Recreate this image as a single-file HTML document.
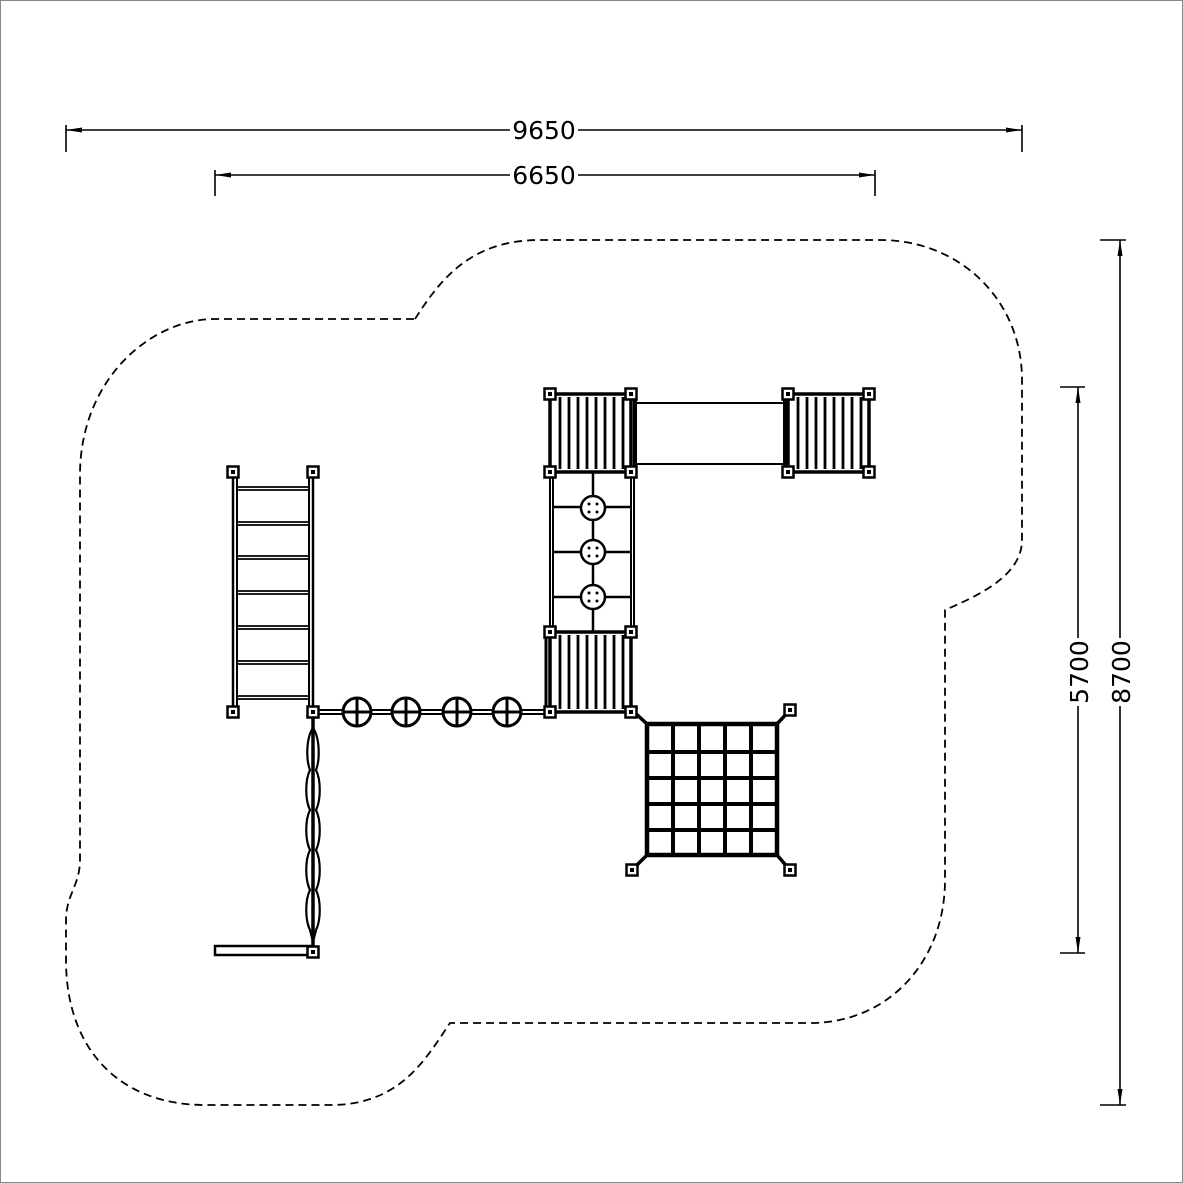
<!DOCTYPE html>
<html><head><meta charset="utf-8"><style>
html,body{margin:0;padding:0;background:#fff}
svg{display:block}
text{font-family:"DejaVu Sans","Liberation Sans",sans-serif;font-size:25px;fill:#000}
</style></head><body>
<svg width="1183" height="1183" viewBox="0 0 1183 1183" xmlns="http://www.w3.org/2000/svg">
<defs>
<marker id="ar" viewBox="0 0 16 6" refX="16" refY="3" markerWidth="16" markerHeight="6" orient="auto-start-reverse" markerUnits="userSpaceOnUse"><path d="M0,0.5 L16,3 L0,5.5 z" fill="#000"/></marker>
<g id="post"><rect x="-5.5" y="-5.5" width="11" height="11" fill="#fff" stroke="#000" stroke-width="2.5"/><rect x="-2" y="-2" width="4" height="4" fill="#000"/></g>
<g id="disc"><circle r="12" fill="#fff" stroke="#000" stroke-width="2.5"/><circle cx="-4" cy="-4" r="1.5"/><circle cx="4" cy="-4" r="1.5"/><circle cx="-4" cy="4" r="1.5"/><circle cx="4" cy="4" r="1.5"/></g>
</defs>
<rect x="0.5" y="0.5" width="1182" height="1182" fill="#fff" stroke="#888"/>
<g stroke="#000" stroke-width="1.6" fill="none">
<line x1="66" y1="130" x2="1022" y2="130" marker-start="url(#ar)" marker-end="url(#ar)"/>
<line x1="66" y1="125" x2="66" y2="152"/><line x1="1022" y1="125" x2="1022" y2="152"/>
<line x1="215" y1="175" x2="875" y2="175" marker-start="url(#ar)" marker-end="url(#ar)"/>
<line x1="215" y1="170" x2="215" y2="196"/><line x1="875" y1="170" x2="875" y2="196"/>
<line x1="1120" y1="240" x2="1120" y2="1105" marker-start="url(#ar)" marker-end="url(#ar)"/>
<line x1="1100" y1="240" x2="1126" y2="240"/><line x1="1100" y1="1105" x2="1126" y2="1105"/>
<line x1="1078" y1="387" x2="1078" y2="953" marker-start="url(#ar)" marker-end="url(#ar)"/>
<line x1="1060" y1="387" x2="1085" y2="387"/><line x1="1060" y1="953" x2="1085" y2="953"/>
</g>
<rect x="510" y="118" width="68" height="24" fill="#fff"/>
<text x="544" y="139" text-anchor="middle">9650</text>
<rect x="510" y="163" width="68" height="24" fill="#fff"/>
<text x="544" y="184" text-anchor="middle">6650</text>
<rect x="1108" y="638" width="24" height="68" fill="#fff"/>
<text transform="translate(1130,672) rotate(-90)" text-anchor="middle">8700</text>
<rect x="1066" y="638" width="24" height="68" fill="#fff"/>
<text transform="translate(1088,672) rotate(-90)" text-anchor="middle">5700</text>
<path d="M415 319 C440 280,470 240,540 240 L880 240 C960 240,1022 300,1022 380 L1022 540 C1022 575,980 595,945 610 L945 880 C945 960,890 1023,810 1023 L450 1023 C425 1060,400 1105,330 1105 L205 1105 C120 1105,66 1050,66 960 L66 920 C66 895,80 885,80 860 L80 475 C80 380,150 319,215 319 Z" fill="none" stroke="#000" stroke-width="1.8" stroke-dasharray="8,5"/>
<g stroke="#000" fill="none">
<line x1="233" y1="472" x2="233" y2="712" stroke-width="2.5"/><line x1="237" y1="478" x2="237" y2="706" stroke-width="2"/>
<line x1="313" y1="472" x2="313" y2="712" stroke-width="2.5"/><line x1="309" y1="478" x2="309" y2="706" stroke-width="2"/>
<path d="M237 487H309M237 490H309M237 522H309M237 525H309M237 556H309M237 559H309M237 591H309M237 594H309M237 626H309M237 629H309M237 661H309M237 664H309M237 696H309M237 699H309" stroke-width="1.8"/>
<rect x="550" y="394" width="81" height="78" stroke-width="3.5"/>
<path d="M560 397V469M569 397V469M578 397V469M587 397V469M596 397V469M605 397V469M614 397V469M623 397V469" stroke-width="2.8"/>
<line x1="635" y1="394" x2="635" y2="472" stroke-width="4"/>
<path d="M637 403H783M637 464H783" stroke-width="2"/>
<rect x="788" y="394" width="81" height="78" stroke-width="3.5"/>
<path d="M798 397V469M807 397V469M816 397V469M825 397V469M834 397V469M843 397V469M852 397V469M861 397V469" stroke-width="2.8"/>
<line x1="785" y1="394" x2="785" y2="472" stroke-width="4"/>
<path d="M550 472V632M553 472V632M631 472V632M634 472V632" stroke-width="2"/>
<path d="M553 507H631M553 552H631M553 597H631M593 472V632" stroke-width="2.5"/>
<rect x="550" y="632" width="81" height="80" stroke-width="3.5"/>
<path d="M560 635V709M569 635V709M578 635V709M587 635V709M596 635V709M605 635V709M614 635V709M623 635V709" stroke-width="2.8"/>
<line x1="546" y1="632" x2="546" y2="712" stroke-width="3"/>
<path d="M313 710H550M313 714H550" stroke-width="2"/>
<g stroke-width="3">
<circle cx="357" cy="712" r="14" fill="#fff"/><path d="M343 712H371M357 698V726"/>
<circle cx="406" cy="712" r="14" fill="#fff"/><path d="M392 712H420M406 698V726"/>
<circle cx="457" cy="712" r="14" fill="#fff"/><path d="M443 712H471M457 698V726"/>
<circle cx="507" cy="712" r="14" fill="#fff"/><path d="M493 712H521M507 698V726"/>
</g>
<line x1="313" y1="718" x2="313" y2="946" stroke-width="3.5"/>
<path d="M313 728 C306 738,306 760,310 770 C305 780,305 800,310 810 C305 820,305 840,310 850 C305 860,305 880,310 890 C305 900,305 920,310 930 L313 942" stroke-width="2.2"/>
<path d="M313 728 C320 738,320 760,316 770 C321 780,321 800,316 810 C321 820,321 840,316 850 C321 860,321 880,316 890 C321 900,321 920,316 930 L313 942" stroke-width="2.2"/>
<rect x="215" y="946" width="98" height="9" stroke-width="2.5" fill="#fff"/>
<path d="M632 710L647 724M790 710L777 724M632 870L647 855M790 870L777 855" stroke-width="3.5"/>
<rect x="647" y="724" width="130" height="131" stroke-width="4.5"/>
<path d="M673 724V855M699 724V855M725 724V855M751 724V855M647 752H777M647 778H777M647 804H777M647 830H777" stroke-width="4"/>
</g>
<use href="#disc" x="593" y="508"/><use href="#disc" x="593" y="552"/><use href="#disc" x="593" y="597"/>
<use href="#post" x="233" y="472"/><use href="#post" x="313" y="472"/>
<use href="#post" x="233" y="712"/><use href="#post" x="313" y="712"/>
<use href="#post" x="550" y="394"/><use href="#post" x="631" y="394"/>
<use href="#post" x="550" y="472"/><use href="#post" x="631" y="472"/>
<use href="#post" x="788" y="394"/><use href="#post" x="869" y="394"/>
<use href="#post" x="788" y="472"/><use href="#post" x="869" y="472"/>
<use href="#post" x="550" y="632"/><use href="#post" x="631" y="632"/>
<use href="#post" x="550" y="712"/><use href="#post" x="631" y="712"/>
<use href="#post" x="790" y="710"/><use href="#post" x="632" y="870"/><use href="#post" x="790" y="870"/>
<use href="#post" x="313" y="952"/>
</svg>
</body></html>
